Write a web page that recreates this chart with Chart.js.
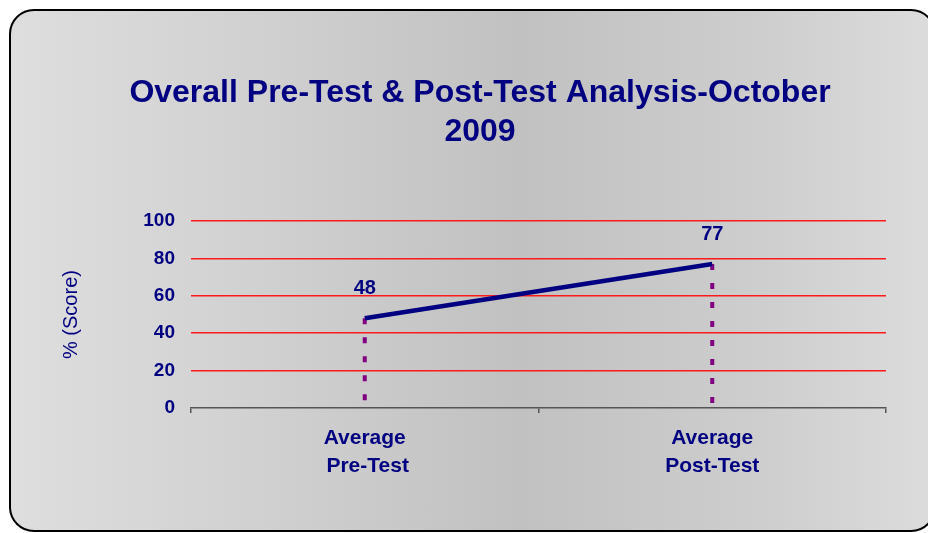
<!DOCTYPE html>
<html>
<head>
<meta charset="utf-8">
<script src="https://cdn.jsdelivr.net/npm/chart.js@4.4.1/dist/chart.umd.min.js"></script>
<style>
  html, body { margin: 0; padding: 0; background: #ffffff; overflow: hidden; }
  #frame {
    position: absolute; left: 9px; top: 9px; width: 927px; height: 523px;
    box-sizing: border-box; border: 2px solid #000; border-radius: 25px;
    background: linear-gradient(to right, #dedede 0%, #cfcfcf 30%, #c1c1c1 55%, #cdcdcd 80%, #dcdcdc 100%);
  }
  #c { position: absolute; left: 0; top: 0; }
</style>
</head>
<body>
<div id="frame"></div>
<canvas id="c" width="928" height="533"></canvas>
<script>
const titleLines = ['Overall Pre-Test & Post-Test Analysis-October', '2009'];
const categories = [['Average', ' Pre-Test'], ['Average', 'Post-Test']];
const scores = [48, 77];
const yMin = 0;
const yMax = 100;
const yStep = 20;
const yAxisTitle = '% (Score)';

const FONT = '"Liberation Sans", Arial, Helvetica, sans-serif';
const NAVY = '#000080';

const dropLines = {
  id: 'dropLines',
  beforeDatasetsDraw(chart) {
    const ctx = chart.ctx;
    const yScale = chart.scales.y;
    const base = yScale.getPixelForValue(0);
    chart.getDatasetMeta(0).data.forEach(pt => {
      ctx.save();
      ctx.strokeStyle = '#800080';
      ctx.lineWidth = 4;
      ctx.setLineDash([6, 13]);
      ctx.beginPath();
      ctx.moveTo(pt.x, pt.y);
      ctx.lineTo(pt.x, base - 2);
      ctx.stroke();
      ctx.restore();
    });
  }
};

const valueLabels = {
  id: 'valueLabels',
  afterDatasetsDraw(chart) {
    const ctx = chart.ctx;
    const ds = chart.data.datasets[0];
    chart.getDatasetMeta(0).data.forEach((pt, i) => {
      ctx.save();
      ctx.font = 'bold 20px ' + FONT;
      ctx.fillStyle = NAVY;
      ctx.textAlign = 'center';
      ctx.textBaseline = 'middle';
      ctx.fillText(String(ds.data[i]), pt.x, pt.y - 30);
      ctx.restore();
    });
  }
};

new Chart(document.getElementById('c'), {
  type: 'line',
  data: {
    labels: categories,
    datasets: [{
      data: scores,
      borderColor: NAVY,
      borderWidth: 4.5,
      pointRadius: 0,
      tension: 0,
      fill: false
    }]
  },
  options: {
    responsive: false,
    animation: false,
    layout: { padding: { left: 32, right: 0, top: 0, bottom: 0 } },
    plugins: {
      legend: { display: false },
      tooltip: { enabled: false },
      title: {
        display: true,
        text: titleLines,
        color: NAVY,
        font: { family: FONT, size: 32, weight: 'bold', lineHeight: 1.22 },
        padding: { top: 74, bottom: 69 }
      }
    },
    scales: {
      x: {
        type: 'category',
        offset: true,
        grid: { display: true, drawOnChartArea: false, drawTicks: true, tickLength: 5, offset: true, color: '#555555', lineWidth: 1.5 },
        border: { display: true, color: '#555555', width: 1.5 },
        ticks: { color: NAVY, font: { family: FONT, size: 21, weight: 'bold', lineHeight: 1.3 }, padding: 12, maxRotation: 0 },
        afterFit(scale) { scale.height = 125; }
      },
      y: {
        min: yMin, max: yMax,
        ticks: { stepSize: yStep, color: NAVY, font: { family: FONT, size: 19, weight: 'bold' }, padding: 16 },
        grid: {
          drawTicks: false,
          color: ctx => (ctx.tick && ctx.tick.value === 0) ? 'rgba(0,0,0,0)' : '#ff1a1a',
          lineWidth: 1.5
        },
        border: { display: false },
        title: { display: true, text: yAxisTitle, color: NAVY, font: { family: FONT, size: 20, lineHeight: 1.2 }, padding: { top: 27, bottom: 0 } },
        afterFit(scale) { scale.width = 159; }
      },
      yRight: {
        position: 'right',
        display: true,
        min: yMin, max: yMax,
        grid: { display: false, drawTicks: false },
        border: { display: false },
        ticks: { display: false },
        afterFit(scale) { scale.width = 42; }
      }
    }
  },
  plugins: [dropLines, valueLabels]
});
</script>
</body>
</html>
